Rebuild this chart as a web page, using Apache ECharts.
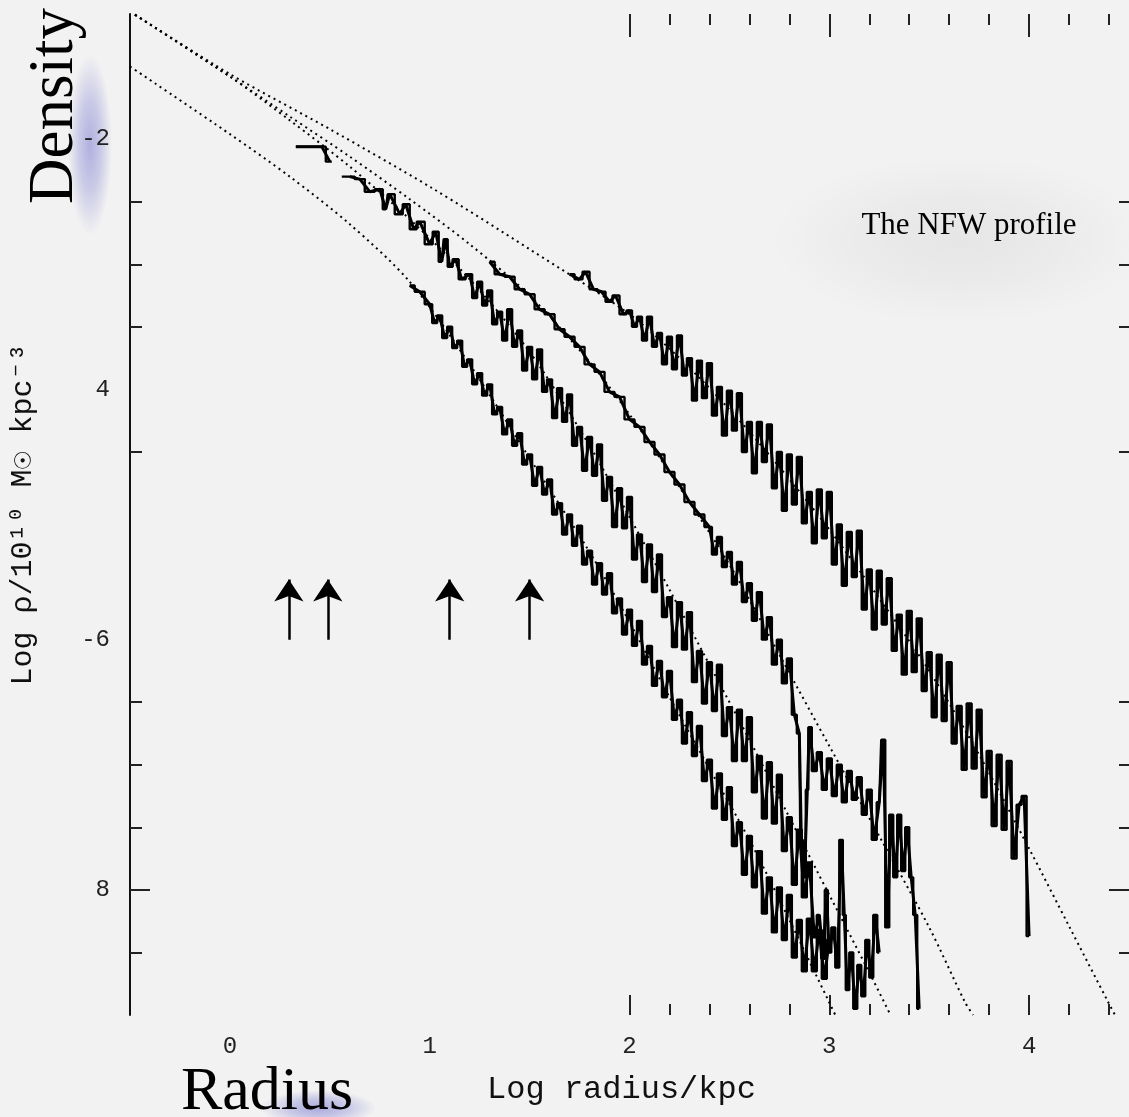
<!DOCTYPE html>
<html><head><meta charset="utf-8">
<script src="https://cdn.jsdelivr.net/npm/echarts@6/dist/echarts.min.js"></script>
<style>html,body{margin:0;padding:0;background:#f2f2f2;}#c{width:1129px;height:1117px;}</style>
</head><body><div id="c"></div>
<script>
// ---- tick labels ----
const xTickValues = [0, 1, 2, 3, 4];
const xTickLabels = ['0', '1', '2', '3', '4'];
const yTickValues = [-2, -4, -6, -8];
const yTickLabels = ['-2', '4', '-6', '8'];
const xMajorTicks = [2, 3, 4];
const xMinorTicks = [2.2, 2.4, 2.6, 2.8, 3.2, 3.4, 3.6, 3.8, 4.2, 4.4];
const yMinorTicks = [-2.5, -3, -3.5, -4.5, -6.5, -7, -7.5, -8.5];
const yMajorTicks = [-8];

// ---- NFW fits (log r, log rho) ----
const fit1 = [[-0.5,-0.98],[0,-1.48],[0.5,-1.92],[1.0,-2.38],[1.5,-2.88],[2.0,-3.40],[2.25,-3.75],[2.5,-4.16],[2.75,-4.62],[3.0,-5.12],[3.25,-5.67],[3.5,-6.25],[3.75,-6.92],[4.0,-7.67],[4.2,-8.29],[4.4,-8.91],[4.43,-9.0]];
const fit2 = [[-0.5,-0.98],[0,-1.50],[0.3,-1.82],[0.6,-2.14],[0.9,-2.48],[1.2,-2.84],[1.5,-3.25],[1.8,-3.78],[2.0,-4.20],[2.25,-4.78],[2.5,-5.40],[2.75,-6.12],[3.0,-6.85],[3.25,-7.57],[3.5,-8.30],[3.68,-8.90],[3.72,-9.0]];
const fit3 = [[-0.5,-0.98],[0,-1.5],[0.3,-1.85],[0.6,-2.22],[0.9,-2.64],[1.2,-3.12],[1.5,-3.7],[1.8,-4.45],[2.0,-5.02],[2.2,-5.6],[2.4,-6.2],[2.6,-6.8],[2.8,-7.42],[3.0,-8.04],[3.2,-8.66],[3.3,-8.98]];
const fit4 = [[-0.5,-1.42],[0,-1.96],[0.3,-2.3],[0.6,-2.68],[0.9,-3.14],[1.2,-3.8],[1.5,-4.55],[1.8,-5.3],[2.0,-5.86],[2.2,-6.46],[2.4,-7.03],[2.6,-7.6],[2.8,-8.24],[3.0,-8.9],[3.03,-9.0]];

// ---- simulated halo density profiles (log r, log rho) ----
const halo1 = [[1.7,-3.08],[1.75,-3.12],[1.78,-3.06],[1.82,-3.2],[1.86,-3.22],[1.9,-3.3],[1.93,-3.25],[1.97,-3.4],
[2.000,-3.37],[2.025,-3.50],[2.050,-3.42],[2.075,-3.61],[2.100,-3.42],[2.125,-3.66],[2.150,-3.55],[2.175,-3.80],[2.200,-3.58],[2.225,-3.84],
[2.250,-3.57],[2.275,-3.89],[2.300,-3.75],[2.325,-4.09],[2.350,-3.77],[2.375,-4.07],[2.400,-3.79],[2.425,-4.21],[2.450,-3.98],[2.475,-4.37],
[2.500,-4.01],[2.525,-4.33],[2.550,-4.03],[2.575,-4.50],[2.600,-4.26],[2.625,-4.67],[2.650,-4.26],[2.675,-4.58],[2.700,-4.28],[2.725,-4.79],
[2.750,-4.50],[2.775,-4.97],[2.800,-4.52],[2.825,-4.92],[2.850,-4.54],[2.875,-5.07],[2.900,-4.82],[2.925,-5.23],[2.950,-4.80],[2.975,-5.19],
[3.000,-4.82],[3.025,-5.40],[3.050,-5.08],[3.075,-5.57],[3.100,-5.14],[3.125,-5.50],[3.150,-5.13],[3.175,-5.76],[3.200,-5.44],[3.225,-5.92],
[3.250,-5.45],[3.275,-5.88],[3.300,-5.51],[3.325,-6.09],[3.350,-5.80],[3.375,-6.28],[3.400,-5.77],[3.425,-6.26],[3.450,-5.83],[3.475,-6.41],
[3.500,-6.10],[3.525,-6.62],[3.550,-6.12],[3.575,-6.65],[3.600,-6.18],[3.625,-6.83],[3.650,-6.53],[3.675,-7.04],[3.700,-6.51],[3.725,-7.03],
[3.750,-6.56],[3.775,-7.26],[3.800,-6.89],[3.825,-7.49],[3.850,-6.92],[3.875,-7.52],[3.900,-6.97],[3.925,-7.75],[3.950,-7.32],[3.975,-7.25],[4.000,-8.37]];

const halo2 = [[1.3,-2.98],[1.35,-3.08],[1.4,-3.1],[1.45,-3.2],[1.5,-3.24],[1.55,-3.36],[1.6,-3.4],[1.65,-3.52],[1.7,-3.58],[1.75,-3.66],
[1.8,-3.8],[1.85,-3.86],[1.9,-4.02],[1.95,-4.06],[2.0,-4.24],[2.05,-4.3],[2.1,-4.42],[2.15,-4.52],[2.2,-4.66],[2.25,-4.76],[2.3,-4.9],[2.35,-5.0],
[2.4,-5.1],[2.425,-5.32],[2.45,-5.18],[2.475,-5.42],[2.5,-5.30],[2.525,-5.56],[2.55,-5.38],[2.575,-5.70],[2.6,-5.55],[2.625,-5.85],[2.65,-5.62],
[2.675,-6.0],[2.7,-5.82],[2.725,-6.2],[2.75,-6.0],[2.775,-6.35],[2.8,-6.15],[2.825,-6.6],[2.85,-6.75],[2.86,-7.6],[2.875,-7.9],[2.89,-7.2],[2.9,-6.7],
[2.925,-7.05],[2.95,-6.9],[2.975,-7.2],[3.0,-6.95],[3.025,-7.25],[3.05,-7.0],[3.075,-7.3],[3.1,-7.05],[3.125,-7.28],[3.15,-7.1],[3.175,-7.4],
[3.2,-7.2],[3.225,-7.6],[3.25,-7.3],[3.27,-6.8],[3.29,-8.3],[3.31,-7.4],[3.33,-7.9],[3.35,-7.4],[3.37,-7.85],[3.39,-7.5],[3.41,-7.9],[3.43,-8.2],[3.45,-8.95]];

const halo3 = [[0.33,-2.06],[0.46,-2.06],[0.5,-2.18],[0.52,'-'],[0.6,-2.3],[0.65,-2.32],[0.7,-2.42],[0.75,-2.4],[0.78,-2.56],[0.8,-2.44],
[0.85,-2.6],[0.88,-2.52],[0.92,-2.72],[0.95,-2.66],[1.0,-2.84],[1.03,-2.74],[1.06,-2.98],[1.08,-2.8],[1.1,-3.02],[1.13,-2.96],[1.16,-3.12],
[1.2,-3.08],[1.225,-3.27],[1.25,-3.14],[1.275,-3.33],[1.3,-3.21],[1.325,-3.48],[1.35,-3.38],[1.375,-3.61],[1.4,-3.36],[1.425,-3.66],
[1.45,-3.53],[1.475,-3.85],[1.5,-3.66],[1.525,-3.92],[1.55,-3.68],[1.575,-4.02],[1.6,-3.92],[1.625,-4.23],[1.65,-3.99],[1.675,-4.26],
[1.7,-4.04],[1.725,-4.45],[1.75,-4.30],[1.775,-4.65],[1.8,-4.38],[1.825,-4.69],[1.85,-4.44],[1.875,-4.89],[1.9,-4.70],[1.925,-5.10],
[1.95,-4.79],[1.975,-5.11],[2.0,-4.86],[2.025,-5.36],[2.05,-5.16],[2.075,-5.54],[2.1,-5.24],[2.125,-5.62],[2.15,-5.32],[2.175,-5.82],
[2.2,-5.66],[2.225,-6.06],[2.25,-5.70],[2.275,-6.08],[2.3,-5.78],[2.325,-6.34],[2.35,-6.09],[2.375,-6.51],[2.4,-6.18],[2.425,-6.57],
[2.45,-6.20],[2.475,-6.77],[2.5,-6.54],[2.525,-6.97],[2.55,-6.56],[2.575,-6.97],[2.6,-6.62],[2.625,-7.22],[2.65,-6.93],[2.675,-7.43],
[2.7,-6.98],[2.725,-7.47],[2.75,-7.08],[2.775,-7.69],[2.8,-7.42],[2.825,-7.96],[2.85,-7.52],[2.875,-8.06],[2.9,-7.78],[2.925,-8.38],[2.95,-8.20],
[2.97,-8.55],[2.985,-8.0],[3.0,-8.5],[3.02,-8.3],[3.04,-8.62],[3.06,-7.6],[3.075,-8.2],[3.09,-8.8],[3.11,-8.5],[3.13,-8.95],[3.15,-8.6],
[3.17,-8.85],[3.19,-8.4],[3.21,-8.7],[3.23,-8.2],[3.25,-8.5]];

const halo4 = [[0.9,-3.17],[0.95,-3.22],
[1.0,-3.32],[1.025,-3.47],[1.05,-3.41],[1.075,-3.59],[1.1,-3.50],[1.125,-3.67],[1.15,-3.61],[1.175,-3.82],[1.2,-3.76],[1.225,-3.96],
[1.25,-3.87],[1.275,-4.05],[1.3,-3.96],[1.325,-4.20],[1.35,-4.14],[1.375,-4.36],[1.4,-4.24],[1.425,-4.45],[1.45,-4.35],[1.475,-4.60],
[1.5,-4.52],[1.525,-4.77],[1.55,-4.62],[1.575,-4.84],[1.6,-4.72],[1.625,-5.00],[1.65,-4.91],[1.675,-5.16],[1.7,-5.00],[1.725,-5.25],
[1.75,-5.09],[1.775,-5.40],[1.8,-5.29],[1.825,-5.56],[1.85,-5.39],[1.875,-5.64],[1.9,-5.47],[1.925,-5.79],[1.95,-5.67],[1.975,-5.96],
[2.0,-5.76],[2.025,-6.05],[2.05,-5.85],[2.075,-6.20],[2.1,-6.05],[2.125,-6.37],[2.15,-6.17],[2.175,-6.46],[2.2,-6.25],[2.225,-6.64],
[2.25,-6.48],[2.275,-6.83],[2.3,-6.58],[2.325,-6.93],[2.35,-6.69],[2.375,-7.13],[2.4,-6.96],[2.425,-7.35],[2.45,-7.07],[2.475,-7.44],
[2.5,-7.18],[2.525,-7.65],[2.55,-7.46],[2.575,-7.88],[2.6,-7.57],[2.625,-7.98],[2.65,-7.69],[2.675,-8.19],[2.7,-7.90],[2.725,-8.34],
[2.75,-7.98],[2.775,-8.40],[2.8,-8.04],[2.825,-8.54],[2.85,-8.24],[2.875,-8.65],[2.9,-8.23],[2.925,-8.65],[2.95,-8.32],[2.975,-8.71],[3.0,-8.40]];

// ---- softening arrows ----
const arrowX = [0.295, 0.49, 1.1, 1.5];
const arrowTail = -6.0;
const arrowTip = -5.52;

const monoFont = '"Liberation Mono", "DejaVu Sans Mono", monospace';
const serifFont = '"Liberation Serif", "DejaVu Serif", serif';

function fitSeries(d) {
  return {type:'line', data:d, showSymbol:false, symbol:'none', smooth:0.3, silent:true,
    lineStyle:{color:'#000', width:2, type:[2,4]}, z:2};
}
// each simulated profile is drawn as a jagged trace plus a histogram-like step trace of the same values
function haloSeries(d, step) {
  return {type:'line', data:d, showSymbol:false, symbol:'none', silent:true, step:step || false, connectNulls:false,
    lineStyle:{color:'#000', width: step ? 2.4 : 3}, z:3};
}
function hiddenX(pos, ticks, len) {
  return {type:'value', min:-0.5, max:4.5, position:pos,
    axisLine:{show:false, onZero:false},
    axisTick:{show:true, inside:true, length:len, customValues:ticks, lineStyle:{color:'#222', width:2}},
    axisLabel:{show:false}, splitLine:{show:false}};
}
function hiddenY(pos, ticks, len) {
  return {type:'value', min:-9, max:-1, position:pos,
    axisLine:{show:false, onZero:false},
    axisTick:{show:true, inside:true, length:len, customValues:ticks, lineStyle:{color:'#222', width:2}},
    axisLabel:{show:false}, splitLine:{show:false}};
}
// soft elliptical glow: a circle scaled into an ellipse, radial gradient fill
function glow(cx, cy, rx, ry, rgb, a) {
  return {type:'circle', z:-1, silent:true, x:cx, y:cy, scaleX:rx/50, scaleY:ry/50,
    shape:{cx:0, cy:0, r:50},
    style:{fill:{type:'radial', x:0.5, y:0.5, r:0.5, colorStops:[
      {offset:0, color:'rgba(' + rgb + ',' + a + ')'},
      {offset:0.5, color:'rgba(' + rgb + ',' + (a*0.6) + ')'},
      {offset:1, color:'rgba(' + rgb + ',0)'}]}}};
}

const chart = echarts.init(document.getElementById('c'), null, {renderer:'canvas'});
chart.setOption({
  animation:false,
  backgroundColor:'#f2f2f2',
  grid:{left:130, top:14, width:1000, height:1001},
  xAxis:[
    {type:'value', min:-0.5, max:4.5, position:'bottom',
     axisLine:{show:false, onZero:false},
     axisTick:{show:true, inside:true, length:20, customValues:xMajorTicks, lineStyle:{color:'#222', width:2}},
     axisLabel:{show:true, customValues:xTickValues, margin:20, color:'#222', fontFamily:monoFont, fontSize:24,
       formatter:function(v){ const i = xTickValues.indexOf(v); return i >= 0 ? xTickLabels[i] : ''; }},
     splitLine:{show:false},
     name:'Log radius/kpc', nameLocation:'middle', nameGap:59,
     nameTextStyle:{color:'#111', fontFamily:monoFont, fontSize:32, padding:[0,16,0,0]}},
    hiddenX('bottom', xMinorTicks, 11),
    hiddenX('top', xMajorTicks, 23),
    hiddenX('top', xMinorTicks, 11)
  ],
  yAxis:[
    {type:'value', min:-9, max:-1, position:'left',
     axisLine:{show:true, onZero:false, lineStyle:{color:'#111', width:2}},
     axisTick:{show:true, inside:true, length:12, customValues:yMinorTicks, lineStyle:{color:'#222', width:2}},
     axisLabel:{show:true, customValues:yTickValues, margin:20, color:'#222', fontFamily:monoFont, fontSize:24,
       formatter:function(v){ const i = yTickValues.indexOf(v); return i >= 0 ? yTickLabels[i] : ''; }},
     splitLine:{show:false},
     name:'Log \u03c1/10\u00b9\u2070 M\u2609 kpc\u207b\u00b3', nameLocation:'middle', nameGap:92, nameRotate:90,
     nameTextStyle:{color:'#111', fontFamily:monoFont, fontSize:30}},
    hiddenY('left', yMajorTicks, 20),
    hiddenY('right', yMinorTicks, 10),
    hiddenY('right', yMajorTicks, 20)
  ],
  series:[
    fitSeries(fit1), fitSeries(fit2), fitSeries(fit3), fitSeries(fit4),
    haloSeries(halo1), haloSeries(halo2), haloSeries(halo3), haloSeries(halo4),
    haloSeries(halo1, 'middle'), haloSeries(halo2, 'middle'), haloSeries(halo3, 'middle'), haloSeries(halo4, 'middle'),
    {type:'lines', coordinateSystem:'cartesian2d', xAxisIndex:0, yAxisIndex:0, silent:true,
     symbol:['none','arrow'], symbolSize:[12,22],
     lineStyle:{color:'#000', width:2.5, opacity:1},
     data: arrowX.map(function(x){ return {coords:[[x, arrowTail],[x, arrowTip]]}; }), z:4}
  ],
  graphic:[
    glow(960, 240, 190, 85, '0,0,0', 0.05),
    glow(90, 145, 22, 90, '110,110,205', 0.5),
    glow(318, 1108, 58, 18, '110,110,205', 0.55),
    {type:'text', z:100, x:55, y:106, rotation:Math.PI/2,
     style:{text:'Density', font:'63px ' + serifFont, fill:'#000', align:'center', verticalAlign:'middle'}},
    {type:'text', z:100, x:267, y:1093,
     style:{text:'Radius', font:'62px ' + serifFont, fill:'#000', align:'center', verticalAlign:'middle'}},
    {type:'text', z:100, x:969, y:226,
     style:{text:'The NFW profile', font:'31px ' + serifFont, fill:'#000', align:'center', verticalAlign:'middle'}}
  ]
});
</script>
</body></html>
